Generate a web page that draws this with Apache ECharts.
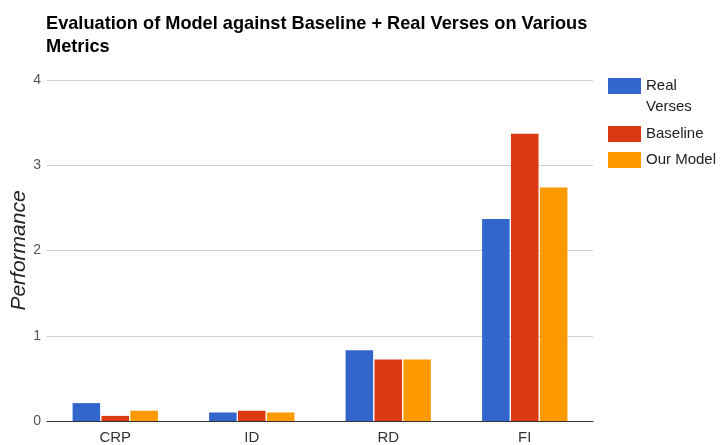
<!DOCTYPE html>
<html>
<head>
<meta charset="utf-8">
<style>
  html, body { margin: 0; padding: 0; background: #fff; }
  #chart { width: 722px; height: 445px; }
</style>
<script src="https://cdn.jsdelivr.net/npm/echarts@6/dist/echarts.min.js"></script>
</head>
<body>
<div id="chart"></div>
<script>
// Metrics on the x axis
var categories = ['CRP', 'ID', 'RD', 'FI'];

// Scores per system
var realVerses = [0.21, 0.10, 0.83, 2.37];
var baseline   = [0.06, 0.12, 0.72, 3.37];
var ourModel   = [0.12, 0.10, 0.72, 2.74];

var yTicks = [0, 1, 2, 3, 4];

var seriesNames = ['Real Verses', 'Baseline', 'Our Model'];
var seriesColors = ['#3366cc', '#dc3912', '#ff9900'];
var seriesData = [realVerses, baseline, ourModel];

var FONT = '"Liberation Sans", Arial, sans-serif';

var chart = echarts.init(document.getElementById('chart'), null, { renderer: 'canvas' });

var legendText = { fontFamily: FONT, fontSize: 15, color: '#222' };

chart.setOption({
  animation: false,
  backgroundColor: '#fff',
  title: {
    text: 'Evaluation of Model against Baseline + Real Verses on Various\nMetrics',
    left: 46,
    top: 12,
    padding: 0,
    textStyle: {
      fontFamily: FONT,
      fontWeight: 'bold',
      fontSize: 18.2,
      lineHeight: 23,
      color: '#000'
    }
  },
  legend: [
    {
      data: ['Real Verses'],
      orient: 'vertical',
      left: 608, top: 78, padding: 0,
      itemWidth: 33, itemHeight: 16, itemGap: 0,
      icon: 'rect',
      formatter: function () { return 'Real'; },
      textStyle: legendText,
      selectedMode: false
    },
    {
      data: ['Baseline', 'Our Model'],
      orient: 'vertical',
      left: 608, top: 126, padding: 0,
      itemWidth: 33, itemHeight: 16, itemGap: 10,
      icon: 'rect',
      textStyle: legendText,
      selectedMode: false
    }
  ],
  graphic: [
    {
      type: 'text',
      left: 646, top: 99,
      style: { text: 'Verses', font: '15px ' + FONT, fill: '#222' }
    }
  ],
  grid: {
    left: 47, right: 129, top: 80, bottom: 24,
    containLabel: false,
    outerBoundsMode: 'none'
  },
  xAxis: {
    type: 'category',
    data: categories,
    axisLine: { show: true, lineStyle: { color: '#333', width: 1 } },
    axisTick: { show: false },
    axisLabel: { color: '#333', fontFamily: FONT, fontSize: 15, margin: 9 }
  },
  yAxis: {
    type: 'value',
    min: yTicks[0],
    max: yTicks[yTicks.length - 1],
    interval: 1,
    name: 'Performance',
    nameLocation: 'middle',
    nameGap: 17,
    nameMoveOverlap: false,
    nameRotate: 90,
    nameTextStyle: {
      fontFamily: FONT, fontSize: 21, fontStyle: 'italic', color: '#222'
    },
    axisLine: { show: false },
    axisTick: { show: false },
    splitLine: { lineStyle: { color: '#d0d0d0', width: 1 } },
    axisLabel: { color: '#555', fontFamily: FONT, fontSize: 14, margin: 6 }
  },
  series: seriesNames.map(function (name, i) {
    return {
      name: name,
      type: 'bar',
      data: seriesData[i],
      barCategoryGap: '37.5%',
      barGap: '5%',
      itemStyle: { color: seriesColors[i] }
    };
  })
});
</script>
</body>
</html>
